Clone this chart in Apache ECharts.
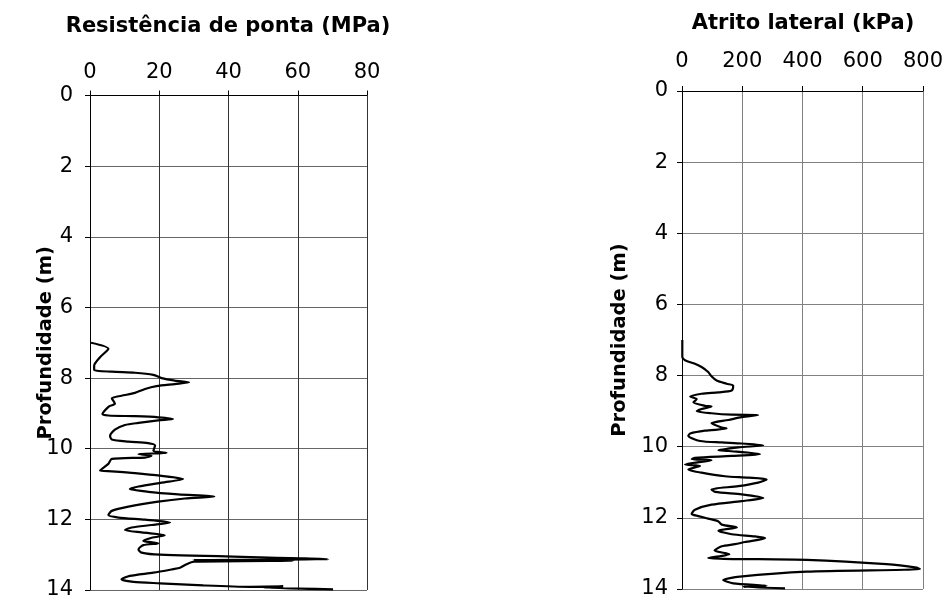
<!DOCTYPE html>
<html>
<head>
<meta charset="utf-8">
<script src="https://cdn.jsdelivr.net/npm/echarts@6/dist/echarts.min.js"></script>
<style>
html,body{margin:0;padding:0;background:#fff;}
#chart{width:946px;height:602px;}
</style>
</head>
<body>
<div id="chart"></div>
<script>
// Resistência de ponta (MPa) vs Profundidade (m)
const qcDepth = [7.00,7.17,7.41,7.65,7.77,7.82,7.85,7.91,8.00,8.07,8.12,8.17,8.23,8.31,8.42,8.50,8.57,8.73,8.80,9.02,9.06,9.08,9.11,9.16,9.20,9.27,9.33,9.46,9.63,9.74,9.80,9.84,9.91,10.06,10.12,10.15,10.20,10.25,10.29,10.43,10.62,10.64,10.69,10.77,10.86,10.96,11.07,11.14,11.22,11.29,11.35,11.41,11.50,11.64,11.76,11.88,11.95,12.01,12.09,12.16,12.23,12.30,12.37,12.45,12.52,12.61,12.68,12.73,12.85,12.94,13.00,13.13,13.15,13.17,13.20,13.27,13.37,13.41,13.51,13.60,13.70,13.77,13.81,13.87,13.91,13.90,13.93,13.98];
const qcValue = [0.3,5.3,2.9,1.2,1.2,6.3,13,18.3,20.7,24.5,28.6,24.5,19.2,15.9,13,9.1,6.3,7.2,5.5,3.6,5.3,13,19.7,24,19.7,14,10.1,7.2,5.8,6.3,11.1,16.8,18.8,18.3,22.1,14,17.8,15.9,6.3,5.3,2.9,6.3,13,20.7,26.9,20.7,14,11.5,16.8,25.5,35.9,27.4,19.7,11.1,6.3,5.3,8.2,15.9,23.1,17.8,12.0,10.1,14.9,21.6,17.8,15.4,19.7,15.4,14,14.9,20.2,68.8,29.8,58.7,30,27.9,26,24,18.3,11.5,9.1,12.5,20.2,32.7,46.2,55.8,50,70.2];

// Atrito lateral (kPa) vs Profundidade (m)
const fsDepth = [7.00,7.48,7.57,7.67,7.76,7.90,8.02,8.14,8.23,8.28,8.42,8.47,8.51,8.59,8.66,8.75,8.85,8.87,8.94,9.00,9.06,9.10,9.11,9.17,9.25,9.34,9.46,9.49,9.55,9.63,9.69,9.84,9.88,9.91,9.96,10.02,10.10,10.12,10.21,10.26,10.31,10.35,10.38,10.50,10.54,10.64,10.73,10.83,10.87,10.92,11.01,11.11,11.20,11.27,11.34,11.44,11.53,11.63,11.77,11.89,11.95,12.02,12.10,12.19,12.27,12.36,12.46,12.52,12.57,12.68,12.74,12.80,12.92,13.02,13.13,13.18,13.30,13.40,13.44,13.51,13.65,13.75,13.84,13.91,13.94,13.98];
const fsValue = [1,1,10,43,65,87,98,115,148,170,165,121,65,27,49,38,76,98,65,49,98,165,253,198,154,98,132,148,76,27,21,60,132,198,270,187,121,154,259,165,43,32,98,10,60,21,65,143,220,281,253,187,98,110,198,270,198,98,43,32,54,87,121,132,182,121,165,242,276,209,176,132,108,157,87,414,679,779,790,414,192,137,170,281,203,342];

const depthTicks = [0,2,4,6,8,10,12,14];
const qcTicks = [0,20,40,60,80];
const fsTicks = [0,200,400,600,800];

const titleLeft = 'Resistência de ponta (MPa)';
const titleRight = 'Atrito lateral (kPa)';
const yName = 'Profundidade (m)';

const FONT = 'DejaVu Sans';
const chart = echarts.init(document.getElementById('chart'));

function xAx(idx, ticks, margin, vColor) {
  return {
    type: 'value', gridIndex: idx, position: 'top',
    min: ticks[0], max: ticks[ticks.length-1], interval: ticks[1]-ticks[0],
    axisLine: {show: true, onZero: false, lineStyle: {color: '#000', width: 1}},
    axisTick: {show: true, inside: false, length: 5, lineStyle: {color: '#000'}},
    axisLabel: {margin: margin, fontFamily: FONT, fontSize: 21, color: '#000'},
    splitLine: {show: true, lineStyle: {color: vColor, width: 1}}
  };
}
function yAx(idx, margin, nameGap, hColor) {
  return {
    type: 'value', gridIndex: idx, inverse: true,
    min: depthTicks[0], max: depthTicks[depthTicks.length-1], interval: depthTicks[1]-depthTicks[0],
    name: yName, nameLocation: 'middle', nameGap: nameGap, nameMoveOverlap: false,
    nameTextStyle: {fontFamily: FONT, fontSize: 19.5, fontWeight: 'bold', color: '#000'},
    axisLine: {show: true, onZero: false, lineStyle: {color: '#000', width: 1}},
    axisTick: {show: true, inside: false, length: 5, lineStyle: {color: '#000'}},
    axisLabel: {margin: margin, fontFamily: FONT, fontSize: 21, color: '#000'},
    splitLine: {show: true, lineStyle: {color: hColor, width: 1}}
  };
}

chart.setOption({
  animation: false,
  backgroundColor: '#fff',
  title: [
    {text: titleLeft, left: 223, top: 11, textAlign: 'center',
     textStyle: {fontFamily: FONT, fontSize: 21, fontWeight: 'bold', color: '#000'}},
    {text: titleRight, left: 798, top: 8, textAlign: 'center',
     textStyle: {fontFamily: FONT, fontSize: 21, fontWeight: 'bold', color: '#000'}}
  ],
  grid: [
    {left: 90, top: 95.5, width: 277, height: 494.5, containLabel: false},
    {left: 682, top: 91, width: 241, height: 498, containLabel: false}
  ],
  xAxis: [xAx(0, qcTicks, 12, '#333'), xAx(1, fsTicks, 19, '#808080')],
  yAxis: [yAx(0, 17, 34, '#666'), yAx(1, 14, 52, '#808080')],
  series: [
    {type: 'line', xAxisIndex: 0, yAxisIndex: 0, showSymbol: false, smooth: 0.25,
     lineStyle: {color: '#000', width: 2.2},
     data: qcDepth.map((d, i) => [qcValue[i], d])},
    {type: 'line', xAxisIndex: 1, yAxisIndex: 1, showSymbol: false, smooth: 0.25,
     lineStyle: {color: '#000', width: 2.2},
     data: fsDepth.map((d, i) => [fsValue[i], d])}
  ]
});
</script>
</body>
</html>
